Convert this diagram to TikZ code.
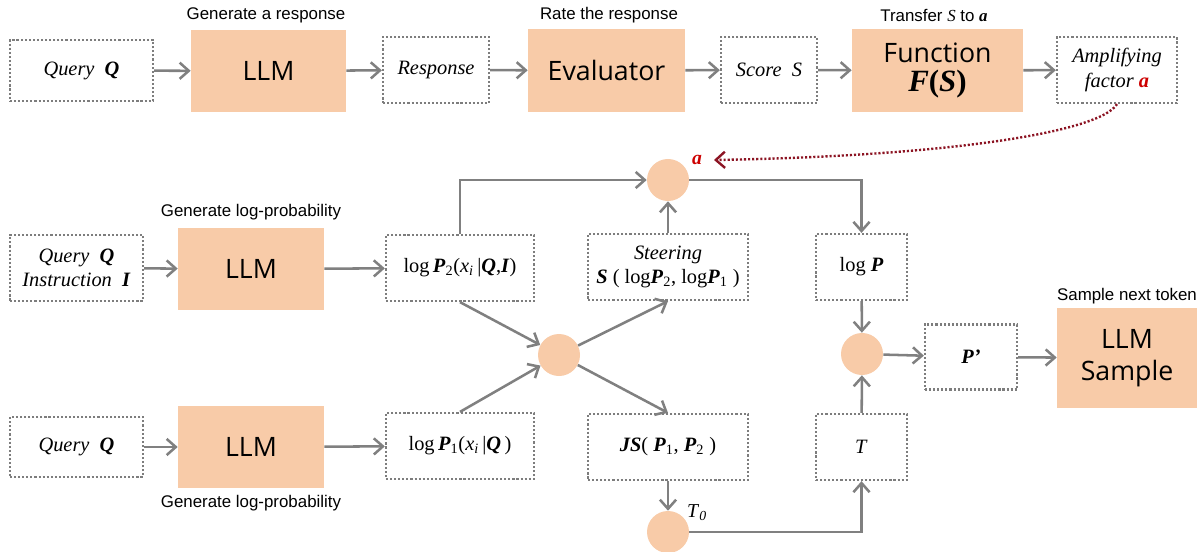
\documentclass[tikz,border=0pt]{standalone}
\usepackage{fontspec}
\setmainfont{Liberation Serif}
\newfontfamily\capfont{Liberation Sans}
\newfontfamily\boxfont{Open Sans}
\usetikzlibrary{arrows.meta}
\definecolor{peach}{RGB}{248,203,168}
\definecolor{linegray}{RGB}{128,128,128}
\definecolor{dotgray}{RGB}{125,125,125}
\definecolor{darkred}{RGB}{140,20,35}
\definecolor{ared}{RGB}{205,0,0}
\newcommand{\bsym}[1]{\textbf{\textit{#1}}}

\begin{document}
\begin{tikzpicture}[x=0.025cm, y=-0.025cm,
  dot box/.style={draw=dotgray, line width=1.6pt, dash pattern=on 1.5pt off 1.4pt, align=center, inner sep=0pt, font=\fontsize{14.5}{17.5}\selectfont},
  llm box/.style={fill=peach, align=center, inner sep=0pt, font=\boxfont\fontsize{19}{23}\selectfont},
  op node/.style={circle, fill=peach, minimum size=1.05cm, inner sep=0pt},
  caption text/.style={font=\capfont\fontsize{12}{14}\selectfont},
  flow/.style={draw=linegray, line width=1.8pt, -{Straight Barb[length=6.5pt,width=11.5pt]}},
  feedback/.style={draw=darkred, line width=1.7pt, dash pattern=on 1.5pt off 1.4pt, -{Straight Barb[length=6.5pt,width=11.5pt]}}]

\useasboundingbox (0,0) rectangle (1203,552);

% top row
\node[dot box, minimum width=3.575cm, minimum height=1.525cm] (q1) at (81.5,70.5) {\textit{Query}~~\bsym{Q}};
\node[llm box, minimum width=3.875cm, minimum height=2.05cm] (llm1) at (268.5,71) {LLM};
\node[dot box, minimum width=2.65cm, minimum height=1.65cm] (resp) at (436,70) {\textit{Response}};
\node[llm box, minimum width=3.925cm, minimum height=2.075cm] (eval) at (606.5,70.5) {Evaluator};
\node[dot box, minimum width=2.4cm, minimum height=1.65cm] (score) at (769,70) {\textit{Score}~~\textit{S}};
\node[llm box, minimum width=4.275cm, minimum height=2.075cm] (func) at (937.5,70.5) {Function\\[-2pt]{\rmfamily\fontsize{22}{24}\selectfont\textbf{\textit{F}(\textit{S})}}};
\node[dot box, minimum width=3.0cm, minimum height=1.65cm] (amp) at (1117,70) {\textit{Amplifying}\\\textit{factor} \textcolor{ared}{\bsym{a}}};

\node[caption text] (c1) at (266,15) {Generate a response};
\node[caption text] (c2) at (609,15) {Rate the response};
\node[caption text] (c3) at (934,15) {Transfer {\rmfamily\textit{S}} to {\rmfamily\bsym{a}}};

\path (q1) edge[flow] (llm1);
\path (llm1) edge[flow] (resp);
\path (resp) edge[flow] (eval);
\path (eval) edge[flow] (score);
\path (score) edge[flow] (func);
\path (func) edge[flow] (amp);

% lower part
\node[dot box, minimum width=3.325cm, minimum height=1.65cm] (qi) at (76.5,268) {\textit{Query}~~\bsym{Q}\\\textit{Instruction}~~\bsym{I}};
\node[llm box, minimum width=3.65cm, minimum height=2.05cm] (llm2) at (251,269) {LLM};
\node[dot box, minimum width=3.7cm, minimum height=1.65cm] (p2) at (460,268) {log\,\bsym{P}\textsubscript{2}(\textit{x}\textsubscript{\textit{i}}\,|\bsym{Q},\bsym{I})};
\node[dot box, minimum width=4.0cm, minimum height=1.65cm] (steer) at (668,267) {\textit{Steering}\\\bsym{S} ( log\bsym{P}\textsubscript{2}, log\bsym{P}\textsubscript{1} )};
\node[dot box, minimum width=2.275cm, minimum height=1.65cm] (lp) at (861.5,267) {log \bsym{P}};

\node[op node] (ma) at (668,180) {};
\node[op node] (mid) at (559,355) {};
\node[op node] (mp) at (862,354) {};
\node[op node] (t0) at (668,532) {};
\node[text=ared, font=\fontsize{14}{16}\selectfont] (alab) at (697,160) {\bsym{a}};
\node[font=\fontsize{14}{16}\selectfont] (t0lab) at (697,513) {\textit{T}\textsubscript{\textit{0}}};

\node[dot box, minimum width=2.3cm, minimum height=1.625cm] (pp) at (971,357) {\bsym{P’}};
\node[llm box, minimum width=3.5cm, minimum height=2.5cm] (samp) at (1127,358) {LLM\\Sample};

\node[dot box, minimum width=3.325cm, minimum height=1.5cm] (q3) at (76.5,447) {\textit{Query}~~\bsym{Q}};
\node[llm box, minimum width=3.65cm, minimum height=2.05cm] (llm3) at (251,447) {LLM};
\node[dot box, minimum width=3.7cm, minimum height=1.65cm] (p1) at (460,446) {log\,\bsym{P}\textsubscript{1}(\textit{x}\textsubscript{\textit{i}}\,|\bsym{Q}\,)};
\node[dot box, minimum width=4.0cm, minimum height=1.65cm] (js) at (668,447) {\bsym{JS}( \bsym{P}\textsubscript{1}, \bsym{P}\textsubscript{2} )};
\node[dot box, minimum width=2.275cm, minimum height=1.65cm] (tb) at (861.5,447) {\textit{T}};

\node[caption text] (c4) at (251,212) {Generate log-probability};
\node[caption text] (c5) at (251,503) {Generate log-probability};
\node[caption text] (c6) at (1127,296) {Sample next token};

\path (qi) edge[flow] (llm2);
\path (llm2) edge[flow] (p2);
\path (q3) edge[flow] (llm3);
\path (llm3) edge[flow] (p1);

\draw[flow] (p2.north) |- (ma);
\draw[flow] (ma) -| (lp);
\path (steer) edge[flow] (ma);
\path (lp) edge[flow] (mp);
\path (tb) edge[flow] (mp);
\path (mp) edge[flow] (pp);
\path (pp) edge[flow] (samp);

\path (p2.south) edge[flow] (mid);
\path (p1.north) edge[flow] (mid);
\path (mid) edge[flow] (steer.south);
\path (mid) edge[flow] (js.north);
\path (js) edge[flow] (t0);
\draw[flow] (t0) -| (tb);

% feedback of the factor a
\coordinate (fbend) at (714,160);
\draw[feedback] (amp.south) .. controls (1100,132) and (950,156) .. (fbend);

\end{tikzpicture}
\end{document}
